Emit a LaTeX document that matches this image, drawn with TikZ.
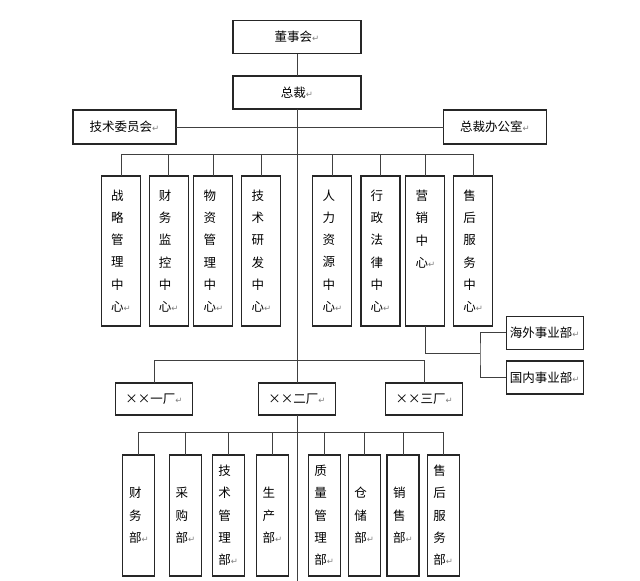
\documentclass[tikz,border=0pt]{standalone}
\usepackage{fontspec}
\newfontfamily\cjk{Noto Sans CJK SC}
\newfontfamily\retfont{DejaVu Sans}
\newcommand\ret{{\retfont\fontsize{8.5pt}{8.5pt}\selectfont\color{black!50}↵}}

\begin{document}
\begin{tikzpicture}[
  x=1pt, y=-1pt,
  font=\cjk\fontsize{12.5pt}{22.3pt}\selectfont,
  box/.style={draw=black!85, line width=1.1pt, fill=white, inner sep=0pt, outer sep=0pt, align=center, minimum width=128, minimum height=33},
  side/.style={box, minimum width=103, minimum height=34},
  centre/.style={box, minimum width=39, minimum height=150, align=left},
  unit/.style={box, minimum width=77, minimum height=33},
  plant/.style={box, minimum width=77, minimum height=32},
  dept/.style={box, minimum width=32, minimum height=121, align=left},
  link/.style={draw=black!75, line width=0.9pt}
]
\useasboundingbox (0,0) rectangle (640,581);

\node[box] (board) at (297,37) {董事会\ret};
\node[box] (ceo) at (297,92.5) {总裁\ret};
\node[side] (techcom) at (124.5,127) {技术委员会\ret};
\node[side] (office) at (495,127) {总裁办公室\ret};

\node[centre] (strat) at (121,251) {战\\略\\管\\理\\中\\心\ret};
\node[centre] (audit) at (168.8,251) {财\\务\\监\\控\\中\\心\ret};
\node[centre] (mat) at (213.4,251) {物\\资\\管\\理\\中\\心\ret};
\node[centre] (rd) at (261.4,251) {技\\术\\研\\发\\中\\心\ret};
\node[centre] (hr) at (332.4,251) {人\\力\\资\\源\\中\\心\ret};
\node[centre] (legal) at (380.5,251) {行\\政\\法\\律\\中\\心\ret};
\node[centre] (mkt) at (425.4,251) {营\\销\\中\\心\ret\\\mbox{}\\\mbox{}};
\node[centre] (svc) at (473.2,251) {售\\后\\服\\务\\中\\心\ret};

\node[unit] (oversea) at (544.7,332.7) {海外事业部\ret};
\node[unit] (domestic) at (544.7,377.5) {国内事业部\ret};

\node[plant] (p1) at (154,399) {××一厂\ret};
\node[plant] (p2) at (297,399) {××二厂\ret};
\node[plant] (p3) at (424.2,399) {××三厂\ret};

\node[dept] (dfin) at (138.9,515.5) {财\\务\\部\ret};
\node[dept] (dbuy) at (185.5,515.5) {采\\购\\部\ret};
\node[dept] (dtech) at (228.3,515.5) {技\\术\\管\\理\\部\ret};
\node[dept] (dprod) at (272.5,515.5) {生\\产\\部\ret};
\node[dept] (dqa) at (324.2,515.5) {质\\量\\管\\理\\部\ret};
\node[dept] (dstore) at (364.2,515.5) {仓\\储\\部\ret};
\node[dept] (dsale) at (403,515.5) {销\\售\\部\ret};
\node[dept] (dsvc) at (443.3,515.5) {售\\后\\服\\务\\部\ret};

\coordinate (bar1) at (297,154);
\coordinate (split) at (480,353.3);
\coordinate (bar2) at (297,360);
\coordinate (bar3) at (297,432);
\coordinate (bottom) at (297,581);

\draw[link] (board) -- (ceo);
\draw[link] (ceo.south) -- (p2.north);
\draw[link] (p2.south) -- (bottom);
\draw[link] (techcom.east) -- (office.west);

\draw[link] (strat.north |- bar1) -- (svc.north |- bar1);
\foreach \n in {strat,audit,mat,rd,hr,legal,mkt,svc}
  \draw[link] (\n.north |- bar1) -- (\n.north);

\draw[link] (mkt.south) |- (split);
\draw[link] (oversea.west) -| (split) |- (domestic.west);

\draw[link] (p1.north) |- (p3.north |- bar2) -- (p3.north);

\draw[link] (dfin.north |- bar3) -- (dsvc.north |- bar3);
\foreach \n in {dfin,dbuy,dtech,dprod,dqa,dstore,dsale,dsvc}
  \draw[link] (\n.north |- bar3) -- (\n.north);

\end{tikzpicture}
\end{document}
